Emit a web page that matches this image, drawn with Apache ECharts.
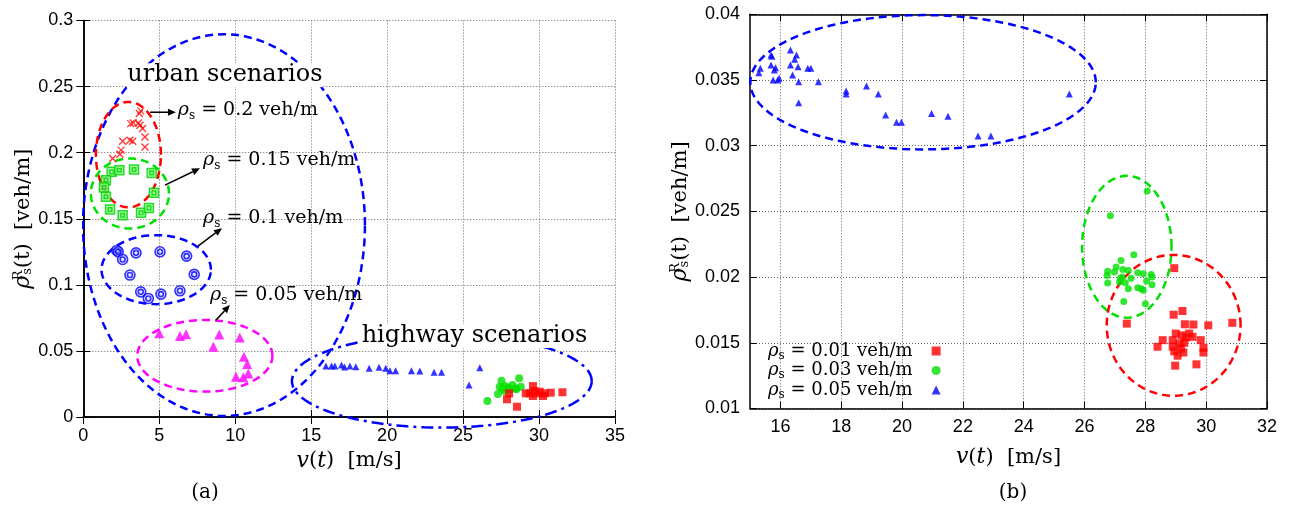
<!DOCTYPE html>
<html><head><meta charset="utf-8">
<script src="https://cdn.jsdelivr.net/npm/echarts@6/dist/echarts.min.js"></script>
<style>html,body{margin:0;padding:0;background:#fff}#c{width:1297px;height:506px}</style>
</head><body><div id="c"></div>
<script>
// ---------------- data ----------------
const xTicksA = [0, 5, 10, 15, 20, 25, 30, 35];
const yTicksA = [0, 0.05, 0.1, 0.15, 0.2, 0.25, 0.3];
const xTicksB = [16, 18, 20, 22, 24, 26, 28, 30, 32];
const yTicksB = [0.01, 0.015, 0.02, 0.025, 0.03, 0.035, 0.04];

// (a) urban scenarios
const urban020 = [[3.78,0.2316],[3.69,0.2296],[3.29,0.2225],[3.12,0.222],[3.62,0.2225],[3.73,0.2208],[3.9,0.2183],
  [2.59,0.2087],[3.07,0.2094],[3.25,0.2087],[4.06,0.2119],[4.06,0.2043],[2.48,0.2019],[1.93,0.1956],[2.41,0.1988],
  [1.43,0.1797],[1.43,0.1741],[1.28,0.174]];
const urban015 = [[1.87,0.1855],[2.37,0.1867],[3.34,0.1873],[4.5,0.1847],[1.49,0.1792],[1.36,0.1737],[4.65,0.1696],
  [1.49,0.1666],[1.76,0.157],[2.59,0.1527],[3.8,0.1545],[4.32,0.1582]];
const urban010 = [[2.2,0.126],[2.3,0.125],[2.59,0.1192],[3.47,0.1242],[5.05,0.125],[6.8,0.1217],[3.07,0.1074],
  [7.3,0.1079],[3.78,0.0947],[4.28,0.0897],[5.11,0.093],[6.36,0.0955]];
const urban005 = [[5.0,0.0633],[6.36,0.0612],[6.76,0.0627],[8.95,0.0625],[10.3,0.0602],[8.56,0.0531],[10.57,0.0456],
  [10.79,0.0401],[10.05,0.0305],[10.53,0.03],[10.86,0.033]];
// (a) highway scenarios
const highway005 = [[15.97,0.0386],[16.34,0.0386],[16.56,0.0386],[17.0,0.0393],[17.2,0.0378],[17.55,0.0386],
  [17.94,0.038],[18.82,0.0368],[19.47,0.0376],[19.91,0.0368],[20.18,0.035],[20.56,0.035],[21.6,0.035],
  [22.15,0.0348],[23.09,0.0338],[23.58,0.0338],[25.39,0.0242],[26.1,0.0373]];
const highway003 = [[26.6,0.0121],[27.3,0.0174],[27.53,0.0275],[28.69,0.0293],[27.41,0.0229],[27.74,0.0234],
  [27.96,0.0224],[28.25,0.0242],[28.47,0.0217],[28.8,0.0229],[27.74,0.0196],[28.07,0.0206],[27.6,0.0211],[28.5,0.021]];
const highway001 = [[29.6,0.0234],[29.13,0.0179],[29.39,0.0179],[29.83,0.0179],[30.05,0.0191],[30.37,0.0179],
  [30.77,0.0184],[31.54,0.0187],[29.6,0.0159],[30.26,0.0159],[28.03,0.0179],[27.89,0.0134],[28.55,0.0078],[29.7,0.0197]];

// (b)
const b005 = [[16.33,0.03728],[16.53,0.0369],[16.47,0.03657],[15.69,0.0369],[15.72,0.0368],[15.34,0.0359],
  [15.29,0.03556],[15.69,0.03614],[15.84,0.03594],[15.8,0.03576],[16.33,0.03614],[16.58,0.03601],[16.9,0.03589],
  [17.0,0.0359],[16.4,0.03538],[15.96,0.03513],[15.76,0.035],[15.91,0.035],[16.6,0.03487],[17.25,0.03487],
  [16.6,0.03327],[18.16,0.03416],[18.16,0.03393],[18.83,0.03454],[19.22,0.03393],[19.46,0.03234],[19.82,0.03178],
  [19.98,0.03178],[20.97,0.03246],[21.51,0.03224],[22.5,0.03074],[22.92,0.03074],[25.5,0.03393]];
const b003 = [[28.06,0.02656],[26.85,0.02467],[27.62,0.02171],[27.2,0.02126],[27.04,0.02076],[26.76,0.02045],
  [26.98,0.02038],[27.26,0.02058],[27.44,0.0205],[26.74,0.02012],[27.24,0.02],[27.53,0.01992],[27.75,0.02033],
  [27.93,0.02025],[28.19,0.0202],[28.22,0.02],[28.04,0.0197],[26.76,0.01955],[27.15,0.01962],[27.34,0.01957],
  [28.22,0.01942],[27.44,0.01911],[27.75,0.01919],[27.93,0.01899],[27.87,0.01911],[27.29,0.01815],[28.0,0.01798],[27.18,0.01992]];
const b001 = [[28.95,0.02068],[28.93,0.01714],[29.22,0.01742],[29.3,0.01641],[29.58,0.01639],[30.07,0.01633],
  [30.86,0.01652],[27.39,0.01646],[29.0,0.0157],[29.2,0.01557],[29.44,0.0157],[29.55,0.01545],[28.57,0.0152],
  [28.9,0.0152],[29.82,0.0152],[29.12,0.01495],[29.28,0.015],[28.4,0.0147],[28.9,0.0147],[29.17,0.01457],
  [29.91,0.01462],[29.91,0.01426],[29.25,0.01426],[29.06,0.01402],[28.98,0.01326],[29.68,0.01336],[28.95,0.01435],[29.33,0.0154]];

// cluster ellipses: [cx, cy, rx, ry] in data units
const ellipseUrban = [9.26, 0.1452, 9.28, 0.1444];
const ellipse020 = [2.97, 0.1985, 2.14, 0.0399];
const ellipse015 = [3.07, 0.1691, 2.57, 0.0265];
const ellipse010 = [4.8, 0.1115, 3.6, 0.0261];
const ellipse005 = [8.0, 0.0463, 4.45, 0.0271];
const ellipseHighway = [23.6, 0.0272, 9.87, 0.0352];
const ellipseB005 = [20.69, 0.03483, 5.68, 0.00511];
const ellipseB003 = [27.39, 0.02231, 1.47, 0.0054];
const ellipseB001 = [28.93, 0.01633, 2.2, 0.00536];

const legendNames = ['ρs = 0.01 veh/m', 'ρs = 0.03 veh/m', 'ρs = 0.05 veh/m'];

// annotations (data coords of panel a)
const annotTexts = [
  {t: 'urban scenarios', p: [9.32, 0.2586], big: true},
  {t: 'highway scenarios', p: [25.75, 0.0612], big: true},
  {t: '0.2 veh/m', p: [6.22, 0.232]},
  {t: '0.15 veh/m', p: [7.88, 0.1943]},
  {t: '0.1 veh/m', p: [7.88, 0.1504]},
  {t: '0.05 veh/m', p: [8.34, 0.0922]}
];
const annotArrows = [
  [[4.39, 0.2306], [6.1, 0.2306]],
  [[5.38, 0.1754], [7.68, 0.1882]],
  [[7.55, 0.1293], [9.13, 0.1429]],
  [[8.73, 0.0733], [9.65, 0.0847]]
];

// ---------------- styling ----------------
const RED = '#ff0000', GREEN = '#00e000', BLUE = '#0000ff', MAG = '#ff00ff';
const SERIF = 'DejaVu Serif';
const SANS = 'Liberation Sans';
const DASH = [8, 5];
const DASHDOT = [12, 5, 3, 5];

function ellipsePts(e) {
  const pts = [];
  for (let i = 0; i <= 160; i++) {
    const t = i / 160 * 2 * Math.PI;
    pts.push([e[0] + e[2] * Math.cos(t), e[1] + e[3] * Math.sin(t)]);
  }
  return pts;
}
function ell(e, color, dash, xi, yi) {
  return {type: 'line', data: ellipsePts(e), xAxisIndex: xi, yAxisIndex: yi, showSymbol: false, symbol: 'none',
    clip: false, silent: true, z: 1, lineStyle: {color: color, width: 2.5, type: dash}, animation: false};
}
function sc(name, data, xi, yi, symbol, size, itemStyle) {
  return {type: 'scatter', name: name, data: data, xAxisIndex: xi, yAxisIndex: yi, symbol: symbol,
    symbolSize: size, itemStyle: itemStyle, z: 3, animation: false, silent: true};
}
const crossPath = 'path://M0,0L10,10M10,0L0,10';
const sqsqPath = 'path://M0,0H10V10H0Z M3,3H7V7H3Z';
const ringPath = 'path://M10,5A5,5,0,1,1,0,5A5,5,0,1,1,10,5Z M7.5,5A2.5,2.5,0,1,1,2.5,5A2.5,2.5,0,1,1,7.5,5Z';

const axisLineStyle = {show: true, lineStyle: {color: '#000', width: 1.5}};
const tickStyle = {show: true, inside: true, length: 7, lineStyle: {color: '#000', width: 1}};
const splitStyle = {show: true, lineStyle: {color: '#666', width: 1, type: [1, 2]}};
const labelStyle = {fontFamily: SANS, fontSize: 18, color: '#000', margin: 10};

const nameRichY = {
  r: {fontFamily: SERIF, fontSize: 21, color: '#000'},
  ri: {fontFamily: SERIF, fontSize: 22, fontStyle: 'italic', color: '#000'},
  sup: {fontFamily: SERIF, fontSize: 13, color: '#000', verticalAlign: 'top', width: 1},
  sub: {fontFamily: SERIF, fontSize: 13, color: '#000', verticalAlign: 'bottom'}
};
const yName = '{ri|ρ}{sup|R}{sub|s}{r|(t)  [veh/m]}';
const xName = '{ri|v}{r|(}{ri|t}{r|)  [m/s]}';

const option = {
  backgroundColor: '#fff',
  animation: false,
  grid: [
    {left: 83.3, right: 1297 - 615, top: 20.5, bottom: 506 - 417},
    {left: 750, right: 1297 - 1267, top: 14.3, bottom: 506 - 408.5}
  ],
  xAxis: [
    {gridIndex: 0, type: 'value', min: 0, max: 35, interval: 5, position: 'bottom',
      axisLine: axisLineStyle, axisTick: tickStyle, splitLine: splitStyle, axisLabel: labelStyle,
      name: xName, nameLocation: 'middle', nameGap: 30, nameTextStyle: {rich: nameRichY}},
    {gridIndex: 0, type: 'value', min: 0, max: 35, interval: 5, position: 'top',
      axisLine: axisLineStyle, axisTick: tickStyle, splitLine: {show: false}, axisLabel: {show: false}},
    {gridIndex: 1, type: 'value', min: 15, max: 32, position: 'bottom',
      axisLine: axisLineStyle, axisTick: Object.assign({}, tickStyle, {customValues: xTicksB}),
      splitLine: splitStyle, axisLabel: Object.assign({}, labelStyle, {customValues: xTicksB}),
      name: xName, nameLocation: 'middle', nameGap: 38, nameTextStyle: {rich: nameRichY}},
    {gridIndex: 1, type: 'value', min: 15, max: 32, position: 'top',
      axisLine: axisLineStyle, axisTick: Object.assign({}, tickStyle, {customValues: xTicksB}),
      splitLine: {show: false}, axisLabel: {show: false, customValues: xTicksB}}
  ],
  yAxis: [
    {gridIndex: 0, type: 'value', min: yTicksA[0], max: yTicksA[yTicksA.length - 1], interval: 0.05, position: 'left',
      axisLine: axisLineStyle, axisTick: tickStyle, splitLine: splitStyle, axisLabel: labelStyle,
      name: yName, nameLocation: 'middle', nameGap: 40, nameRotate: 90, nameTextStyle: {rich: nameRichY}},
    {gridIndex: 0, type: 'value', min: 0, max: 0.3, interval: 0.05, position: 'right',
      axisLine: axisLineStyle, axisTick: tickStyle, splitLine: {show: false}, axisLabel: {show: false}},
    {gridIndex: 1, type: 'value', min: yTicksB[0], max: yTicksB[yTicksB.length - 1], interval: 0.005, position: 'left',
      axisLine: axisLineStyle, axisTick: tickStyle, splitLine: splitStyle, axisLabel: labelStyle,
      name: yName, nameLocation: 'middle', nameGap: 27, nameRotate: 90, nameTextStyle: {rich: nameRichY}},
    {gridIndex: 1, type: 'value', min: 0.01, max: 0.04, interval: 0.005, position: 'right',
      axisLine: axisLineStyle, axisTick: tickStyle, splitLine: {show: false}, axisLabel: {show: false}}
  ],
  legend: {
    data: legendNames, left: 763, top: 337, orient: 'vertical', align: 'right', itemGap: 0,
    itemWidth: 9, itemHeight: 9, selectedMode: false,
    formatter: function (n) { return '{ri|ρ}{sub|s}{r| = ' + n.split('= ')[1] + '}{g|}'; },
    textStyle: {rich: {
      r: {fontFamily: SERIF, fontSize: 18, color: '#000', lineHeight: 21},
      ri: {fontFamily: SERIF, fontSize: 18, fontStyle: 'italic', color: '#000', lineHeight: 21},
      sub: {fontFamily: SERIF, fontSize: 12, color: '#000', verticalAlign: 'bottom', lineHeight: 21},
      g: {width: 14}
    }}
  },
  series: [
    ell(ellipseUrban, BLUE, DASH, 0, 0),
    ell(ellipse020, RED, DASH, 0, 0),
    ell(ellipse015, GREEN, DASH, 0, 0),
    ell(ellipse010, BLUE, DASH, 0, 0),
    ell(ellipse005, MAG, DASH, 0, 0),
    ell(ellipseHighway, BLUE, DASHDOT, 0, 0),
    sc('urban 0.2', urban020, 0, 0, crossPath, 7, {color: 'none', borderColor: RED, borderWidth: 1.3}),
    sc('urban 0.15', urban015, 0, 0, sqsqPath, 9, {color: '#8f8', borderColor: '#00d000', borderWidth: 1.5}),
    sc('urban 0.1', urban010, 0, 0, ringPath, 10, {color: 'rgba(200,200,255,0.5)', borderColor: BLUE, borderWidth: 1.6}),
    sc('urban 0.05', urban005, 0, 0, 'triangle', 10, {color: MAG}),
    sc('hw 0.05', highway005, 0, 0, 'triangle', 7, {color: BLUE}),
    sc('hw 0.03', highway003, 0, 0, 'circle', 8, {color: GREEN}),
    sc('hw 0.01', highway001, 0, 0, 'rect', 8, {color: RED}),
    ell(ellipseB005, BLUE, DASH, 2, 2),
    ell(ellipseB003, GREEN, DASH, 2, 2),
    ell(ellipseB001, RED, DASH, 2, 2),
    sc(legendNames[0], b001, 2, 2, 'rect', 8, {color: RED}),
    sc(legendNames[1], b003, 2, 2, 'circle', 7, {color: GREEN}),
    sc(legendNames[2], b005, 2, 2, 'triangle', 7, {color: BLUE})
  ]
};

const chart = echarts.init(document.getElementById('c'));
chart.setOption(option);

// annotations placed through the axis scales of panel (a)
const toPx = p => chart.convertToPixel({xAxisIndex: 0, yAxisIndex: 0}, p);
const graphics = [];
const annRich = {
  r: {fontFamily: SERIF, fontSize: 19, fill: '#000', lineHeight: 23},
  ri: {fontFamily: SERIF, fontSize: 19, fontStyle: 'italic', fill: '#000', lineHeight: 23},
  sub: {fontFamily: SERIF, fontSize: 12, fill: '#000', verticalAlign: 'bottom', lineHeight: 23}
};
annotTexts.forEach(a => {
  const px = toPx(a.p);
  if (a.big) {
    graphics.push({type: 'text', x: px[0], y: px[1], z: 10, style: {text: a.t, fontFamily: SERIF, fontSize: 24,
      fill: '#000', align: 'center', verticalAlign: 'middle', backgroundColor: '#fff'}});
  } else {
    graphics.push({type: 'text', x: px[0], y: px[1], z: 10, style: {text: '{ri|ρ}{sub|s}{r| = ' + a.t + '}',
      rich: annRich, align: 'left', verticalAlign: 'middle'}});
  }
});
annotArrows.forEach(ar => {
  const a = toPx(ar[0]), b = toPx(ar[1]);
  const ang = Math.atan2(b[1] - a[1], b[0] - a[0]);
  const L = 8, Wd = 3.5;
  const bx = b[0] - L * Math.cos(ang), by = b[1] - L * Math.sin(ang);
  graphics.push({type: 'line', z: 10, shape: {x1: a[0], y1: a[1], x2: bx, y2: by}, style: {stroke: '#000', lineWidth: 1.5}});
  graphics.push({type: 'polygon', z: 10, shape: {points: [b,
    [bx + Wd * Math.sin(ang), by - Wd * Math.cos(ang)], [bx - Wd * Math.sin(ang), by + Wd * Math.cos(ang)]]},
    style: {fill: '#000'}});
});
graphics.push({type: 'text', x: 205, y: 493, style: {text: '(a)', fontFamily: SERIF, fontSize: 20, fill: '#000', align: 'center', verticalAlign: 'middle'}});
graphics.push({type: 'text', x: 1013, y: 493, style: {text: '(b)', fontFamily: SERIF, fontSize: 20, fill: '#000', align: 'center', verticalAlign: 'middle'}});
chart.setOption({graphic: graphics});
</script>
</body></html>
